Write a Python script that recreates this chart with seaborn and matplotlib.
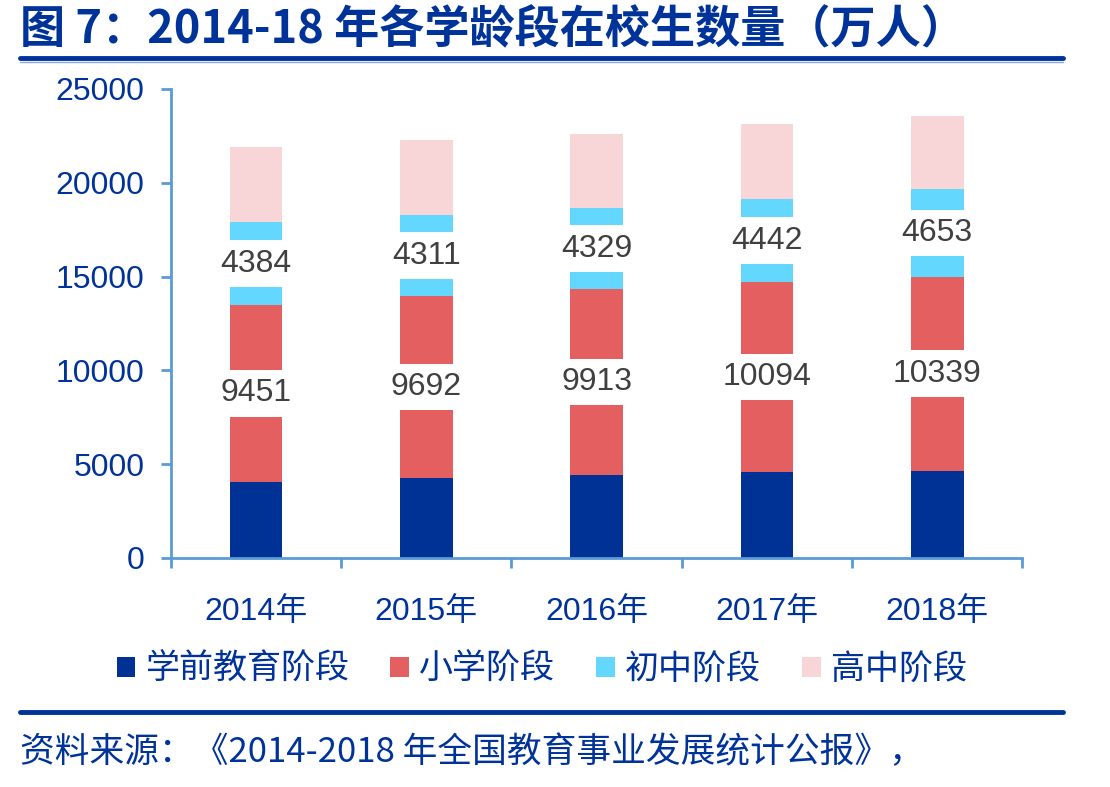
import numpy as np
import pandas as pd
import matplotlib
matplotlib.use("Agg")
import matplotlib.pyplot as plt
from matplotlib.patches import Patch
from matplotlib.lines import Line2D
import seaborn as sns

# data (万人)
years = ["2014年", "2015年", "2016年", "2017年", "2018年"]
preschool = [4051, 4265, 4414, 4600, 4656]
primary = [9451, 9692, 9913, 10094, 10339]
junior = [4384, 4311, 4329, 4442, 4653]
senior = [4020, 3990, 3950, 3990, 3900]
series_names = ["学前教育阶段", "小学阶段", "初中阶段", "高中阶段"]

navy = "#003399"
colors = ["#003296", "#E46060", "#63D7FE", "#F8D5D6"]
axis_col = "#5B9BD5"

sns.set_style("white")
plt.rcParams['font.family'] = ['Liberation Sans', 'Noto Sans CJK SC']

fig = plt.figure(figsize=(11.1, 7.87), dpi=100)
ax = fig.add_axes([0.154, 0.291, 0.767, 0.596])

layers = np.array([preschool, primary, junior, senior], dtype=float)
cum = np.cumsum(layers, axis=0)

# stacked bars: draw cumulative totals from tallest to shortest
for i in range(3, -1, -1):
    sns.barplot(x=years, y=cum[i], color=colors[i], width=0.31, saturation=1,
                linewidth=0, ax=ax, zorder=2)

# value labels for primary and junior segments (white box over bar)
for j in range(len(years)):
    for i in (1, 2):
        mid = cum[i][j] - layers[i][j] / 2
        ax.text(j, mid, f"{int(layers[i][j])}", ha="center", va="center",
                fontsize=23, color="#404040", zorder=5,
                bbox=dict(facecolor="white", edgecolor="none", pad=6))

ax.set_xlim(-0.5, 4.5)
ax.set_ylim(0, 25000)
ax.set_yticks(range(0, 25001, 5000))
ax.set_xlabel("")
ax.set_ylabel("")

for s in ["top", "right"]:
    ax.spines[s].set_visible(False)
for s in ["left", "bottom"]:
    ax.spines[s].set_color(axis_col)
    ax.spines[s].set_linewidth(2)

ax.tick_params(axis="y", direction="out", length=7, width=2, color=axis_col,
               labelsize=23, labelcolor=navy, pad=12, left=True)
ax.set_xticks(np.arange(-0.5, 4.6, 1), minor=True)
ax.tick_params(axis="x", which="minor", direction="out", length=7, width=2,
               color=axis_col, bottom=True)
ax.tick_params(axis="x", which="major", length=0, labelsize=23,
               labelcolor=navy, pad=28)

handles = [Patch(facecolor=c, edgecolor="none") for c in colors]
fig.legend(handles, series_names, loc="center", bbox_to_anchor=(0.488, 0.149),
           ncol=4, frameon=False, fontsize=24.5, labelcolor=navy,
           handlelength=0.55, handleheight=0.55, handletextpad=0.3,
           columnspacing=1.2)

# title, rules and source
fig.text(0.018, 0.961, "图 7：2014-18 年各学龄段在校生数量（万人）", fontsize=32.5,
         fontweight="bold", color=navy, va="center", ha="left",
         family=['Noto Sans CJK SC'])
fig.add_artist(Line2D([0.018, 0.958], [0.926, 0.926], color=navy, lw=3.5))
fig.add_artist(Line2D([0.018, 0.958], [0.921, 0.921], color="#8FA8D8", lw=1))
fig.add_artist(Line2D([0.018, 0.958], [0.095, 0.095], color=navy, lw=3.5))
fig.text(0.018, 0.044, "资料来源：《2014-2018 年全国教育事业发展统计公报》，",
         fontsize=25, color=navy, va="center", ha="left",
         family=['Noto Sans CJK SC'])

fig.savefig("out.png", dpi=100)
